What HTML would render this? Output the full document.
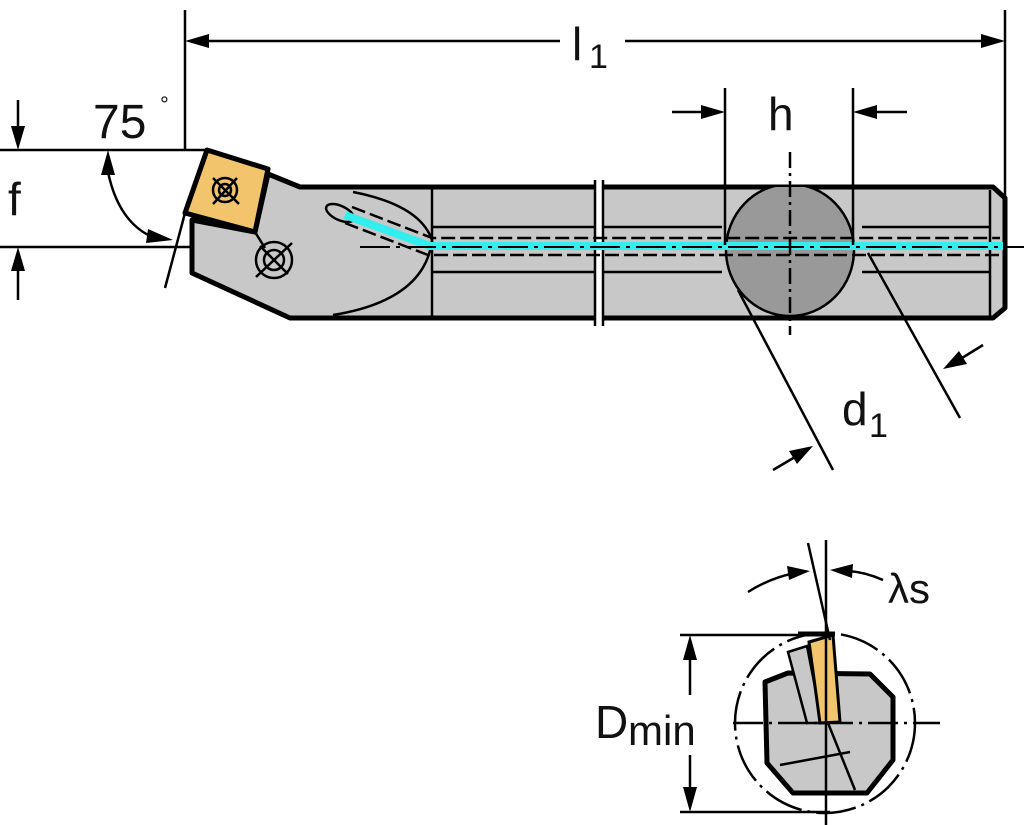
<!DOCTYPE html>
<html><head><meta charset="utf-8"><style>
html,body{margin:0;padding:0;background:#fff;}
svg{display:block;}
text{font-family:"Liberation Sans",sans-serif;fill:#111;}
</style></head><body>
<svg width="1024" height="825" viewBox="0 0 1024 825" xmlns="http://www.w3.org/2000/svg">
<defs>
<clipPath id="bodyclip"><rect x="300" y="187" width="705" height="131"/></clipPath>
</defs>
<g stroke="#000" fill="none" stroke-width="2.5">
<line x1="185" y1="10" x2="185" y2="150"/>
<line x1="1005" y1="10" x2="1005" y2="245"/>
<line x1="207" y1="41" x2="560" y2="41"/>
<line x1="625" y1="41" x2="983" y2="41"/>
<path d="M185,41 L209,34 L209,48 Z M1005,41 L981,34 L981,48 Z" fill="#000" stroke="none"/>
<line x1="0" y1="150" x2="207" y2="150"/>
<line x1="0" y1="247" x2="190" y2="247"/>
<line x1="18" y1="100" x2="18" y2="128"/>
<path d="M18,150 L11,126 L25,126 Z" fill="#000" stroke="none"/>
<line x1="18" y1="270" x2="18" y2="300"/>
<path d="M18,247 L11,271 L25,271 Z" fill="#000" stroke="none"/>
<path d="M108,172 Q118,220 150,236"/>
<path d="M108,150 L101,175 L115,175 Z" fill="#000" stroke="none"/>
<path d="M173,240 L148,229 L146,243 Z" fill="#000" stroke="none"/>
<line x1="185" y1="213" x2="165" y2="288"/>
</g>
<path d="M300,187 L993,187 L1005,198 L1005,308 L993,318 L290,318 L192,273 L192,220 L255,232 L268,174 Z" fill="#c8c8c8" stroke="#000" stroke-width="5" stroke-linejoin="round"/>
<g clip-path="url(#bodyclip)">
<ellipse cx="790" cy="250" rx="64" ry="66" fill="#999" stroke="#000" stroke-width="2.5"/>
</g>
<g stroke="#000" fill="none" stroke-width="2.5">
<path d="M353,192 Q420,205 432,240 Q425,300 333,315"/>
<line x1="432" y1="187" x2="432" y2="318"/>
<line x1="432" y1="227" x2="722" y2="227"/>
<line x1="432" y1="272" x2="722" y2="272"/>
<line x1="862" y1="227" x2="990" y2="227"/>
<line x1="862" y1="272" x2="990" y2="272"/>
<line x1="990" y1="190" x2="990" y2="316"/>
<ellipse cx="340" cy="213" rx="15" ry="7" transform="rotate(25 340 213)" fill="#c8c8c8"/>
</g>
<rect x="594" y="180" width="10" height="146" fill="#fff"/>
<line x1="595" y1="180" x2="595" y2="326" stroke="#000" stroke-width="2.5"/>
<line x1="603" y1="180" x2="603" y2="326" stroke="#000" stroke-width="2.5"/>
<path d="M345,215 L430,246 L1003,246" stroke="#3ee" stroke-width="8" fill="none"/>
<path d="M352,207 L432,238 L1000,238 M345,223 L428,255 L1000,255" stroke="#000" stroke-width="2.5" stroke-dasharray="14,5" fill="none"/>
<line x1="360" y1="247" x2="1024" y2="247" stroke="#000" stroke-width="2" stroke-dasharray="30,6,4,6"/>
<path d="M207,150 L268,169 L255,232 L185,213 Z" fill="#f2c46c" stroke="#000" stroke-width="5" stroke-linejoin="round"/>
<g stroke="#000" fill="none" stroke-width="2.5">
<circle cx="225" cy="190" r="12"/><circle cx="225" cy="190" r="6"/>
<line x1="213" y1="178" x2="239" y2="204"/><line x1="237" y1="178" x2="213" y2="204"/>
<line x1="255" y1="232" x2="265" y2="248"/>
<circle cx="274" cy="260" r="18"/><circle cx="274" cy="260" r="10"/>
<line x1="256" y1="277" x2="292" y2="243"/><line x1="260" y1="246" x2="288" y2="274"/>
<line x1="790" y1="152" x2="790" y2="335" stroke-dasharray="16,5,3,5"/>
<line x1="725" y1="88" x2="725" y2="245"/>
<line x1="853" y1="88" x2="853" y2="245"/>
<line x1="672" y1="112" x2="705" y2="112"/>
<path d="M725,112 L701,105 L701,119 Z" fill="#000" stroke="none"/>
<line x1="873" y1="112" x2="907" y2="112"/>
<path d="M853,112 L877,105 L877,119 Z" fill="#000" stroke="none"/>
<line x1="738" y1="290" x2="833" y2="470"/>
<line x1="868" y1="253" x2="960" y2="418"/>
<line x1="773" y1="470" x2="795" y2="457"/>
<path d="M813,446 L789,451 L797,464 Z" fill="#000" stroke="none"/>
<line x1="983" y1="345" x2="962" y2="358"/>
<path d="M943,369 L967,364 L959,351 Z" fill="#000" stroke="none"/>
</g>
<text x="572" y="60" font-size="46">l</text><text x="589" y="68" font-size="34">1</text>
<text x="93" y="138" font-size="48">75</text><text x="160" y="112" font-size="22">°</text>
<text x="8" y="215" font-size="46">f</text>
<text x="768" y="130" font-size="46">h</text>
<text x="842" y="425" font-size="46">d</text><text x="869" y="437" font-size="34">1</text>
<g stroke="#000" fill="none" stroke-width="2.5">
<circle cx="825" cy="723" r="90" stroke-dasharray="40,6,3,6"/>
<line x1="680" y1="635" x2="830" y2="635"/>
<line x1="680" y1="812" x2="830" y2="812"/>
<line x1="690" y1="660" x2="690" y2="695"/>
<line x1="690" y1="755" x2="690" y2="790"/>
<path d="M690,635 L683,660 L697,660 Z M690,812 L683,787 L697,787 Z" fill="#000" stroke="none"/>
</g>
<path d="M765,682 L788,673 L870,674 L893,697 L893,760 L867,793 L793,793 L767,763 Z" fill="#c8c8c8" stroke="#000" stroke-width="5" stroke-linejoin="round"/>
<path d="M788,652 L807,646 L822,723 L807,723 Z" fill="#c8c8c8" stroke="#000" stroke-width="2.5"/>
<path d="M809,642 L833,635 L840,722 L820,723 Z" fill="#f2c46c" stroke="#000" stroke-width="3"/>
<g stroke="#000" fill="none" stroke-width="2.5">
<line x1="798" y1="634" x2="835" y2="634" stroke-width="5"/>
<line x1="733" y1="723" x2="940" y2="723" stroke-dasharray="30,6,3,6"/>
<line x1="826" y1="540" x2="826" y2="825"/>
<line x1="808" y1="543" x2="830" y2="640"/>
<line x1="828" y1="723" x2="855" y2="790"/>
<line x1="780" y1="765" x2="850" y2="752"/>
<path d="M748,592 Q770,578 795,573"/>
<path d="M810,571 L787,566 L789,580 Z" fill="#000" stroke="none"/>
<path d="M883,580 Q865,572 848,571"/>
<path d="M830,570 L853,564 L852,578 Z" fill="#000" stroke="none"/>
</g>
<text x="888" y="603" font-size="42">λs</text>
<text x="595" y="738" font-size="46">D</text><text x="628" y="745" font-size="42">min</text>
</svg>
</body></html>
